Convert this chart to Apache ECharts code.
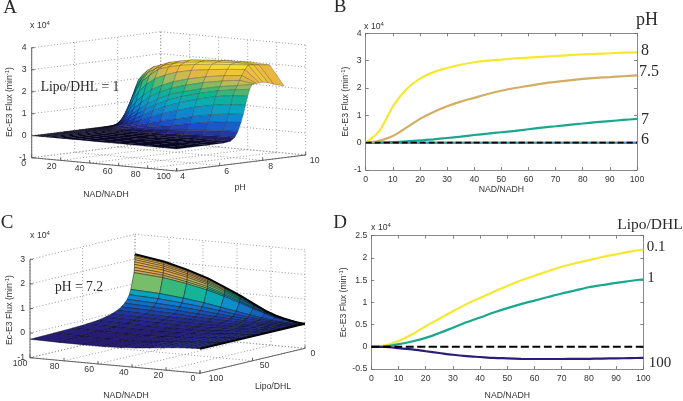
<!DOCTYPE html>
<html><head><meta charset="utf-8">
<style>html,body{margin:0;padding:0;background:#fff}#c{width:683px;height:401px}</style>
<script src="https://cdn.jsdelivr.net/npm/echarts@6/dist/echarts.min.js"></script>
</head><body><div id="c"></div>
<script>
// ---------- Panel A surface: flux (x 10^4) by pH (rows) and NAD/NADH (columns)
const nadA=[0,1.5,3,5,7,10,13,17,22,28,35,43,53,65,78,90,100];
const phA=[4,5.5,6.2,6.5,6.7,6.85,7,7.1,7.2,7.3,7.4,7.5,7.6,7.7,7.85,8,8.25,8.5,9];
const fluxA=[
[0,0,0,0,0,0,0,0,0,0,0,0,0,0,0,0,0],
[0,0,0,0,0,0,0,0,0,0,0,0,0,0,0,0,0],
[0,0,0,0,0,0,0,0,0,0,0,0,0,.005,.005,.01,.01],
[0,0,0,0,0,0,0,0,0,.005,.01,.01,.02,.03,.04,.05,.05],
[0,0,0,0,0,.005,.01,.01,.02,.03,.05,.07,.09,.12,.16,.19,.2],
[0,0,0,0,.005,.01,.02,.03,.05,.08,.12,.17,.23,.3,.37,.42,.45],
[0,0,0,.005,.01,.02,.04,.07,.11,.17,.24,.32,.43,.58,.72,.82,.87],
[0,0,.01,.01,.02,.04,.07,.12,.2,.3,.42,.55,.7,.88,1.05,1.15,1.2],
[0,0,.01,.02,.04,.07,.13,.22,.34,.5,.68,.88,1.08,1.3,1.47,1.57,1.6],
[0,.01,.02,.03,.06,.11,.2,.33,.5,.72,.95,1.18,1.42,1.65,1.85,1.97,2],
[0,.01,.02,.05,.09,.17,.3,.48,.7,.96,1.2,1.45,1.68,1.9,2.1,2.22,2.3],
[0,.01,.03,.07,.14,.25,.42,.65,.9,1.2,1.45,1.7,1.9,2.1,2.28,2.4,2.5],
[0,.02,.05,.1,.21,.38,.6,.9,1.2,1.5,1.75,1.98,2.18,2.37,2.52,2.62,2.52],
[0,.03,.08,.16,.32,.56,.85,1.2,1.52,1.83,2.05,2.27,2.45,2.62,2.75,2.83,2.53],
[0,.06,.17,.32,.55,.9,1.26,1.66,2,2.3,2.5,2.68,2.82,2.93,3.02,3.08,2.54],
[0,.1,.3,.55,.85,1.3,1.7,2.1,2.4,2.7,2.85,2.97,3.07,3.15,3.22,3.27,2.55],
[0,.25,.65,1.05,1.42,1.85,2.15,2.45,2.65,2.85,2.98,3.08,3.16,3.22,3.27,3.25,2.5],
[0,.5,1.2,1.7,2.05,2.3,2.5,2.68,2.8,2.95,3.05,3.15,3.2,3.25,3.27,3.22,2.4],
[0,.5,1.1,1.6,1.95,2.25,2.45,2.6,2.75,2.9,3,3.08,3.14,3.18,3.2,3.15,2.26]];
// ---------- Panel C surface: flux (x 10^4) by Lipo/DHL (rows) and NAD/NADH (columns)
const nadC=[0,2,5,8,12,17,23,30,38,47,57,69,83,100];
const lipoC=[.1,.13,.17,.22,.3,.4,.55,.75,1,4,5.5,7.5,10,13,17,22,28,36,46,60,78,100];
const fluxC=[
[0,.005,.03,.07,.13,.22,.38,.62,.9,1.18,1.48,1.75,2,2.19],
[0,.005,.03,.07,.13,.21,.37,.6,.87,1.15,1.44,1.7,1.94,2.12],
[0,.005,.03,.07,.12,.21,.36,.58,.85,1.11,1.39,1.65,1.88,2.05],
[0,.004,.03,.06,.12,.2,.35,.56,.82,1.07,1.34,1.59,1.81,1.97],
[0,.004,.03,.06,.11,.2,.34,.54,.78,1.03,1.29,1.52,1.73,1.88],
[0,.004,.02,.06,.11,.19,.33,.52,.75,.98,1.23,1.45,1.65,1.78],
[0,.004,.02,.06,.1,.18,.31,.48,.7,.92,1.15,1.35,1.54,1.66],
[0,.003,.02,.05,.1,.17,.29,.46,.66,.87,1.08,1.27,1.45,1.55],
[0,.003,.02,.05,.09,.16,.28,.43,.62,.82,1.02,1.2,1.36,1.45],
[0,.001,.01,.02,.04,.07,.13,.21,.3,.41,.53,.64,.74,.8],
[0,0,.005,.015,.025,.045,.085,.135,.205,.285,.375,.46,.545,.6],
[0,0,.002,.01,.01,.02,.05,.08,.12,.18,.25,.32,.38,.43],
[0,0,0,0,0,0,.015,.03,.06,.09,.14,.2,.25,.3],
[0,-.001,0,0,-.01,-.01,-.01,-.01,0,.02,.05,.1,.14,.18],
[0,-.002,-.004,-.007,-.015,-.03,-.04,-.05,-.05,-.05,-.02,0,.04,.08],
[0,-.002,-.006,-.01,-.02,-.04,-.055,-.08,-.09,-.1,-.09,-.07,-.04,-.01],
[0,-.002,-.007,-.01,-.03,-.05,-.07,-.1,-.13,-.14,-.14,-.13,-.11,-.08],
[0,-.003,-.008,-.015,-.03,-.055,-.085,-.12,-.16,-.18,-.19,-.18,-.16,-.14],
[0,-.003,-.009,-.017,-.035,-.06,-.095,-.135,-.18,-.21,-.22,-.22,-.2,-.18],
[0,-.003,-.009,-.018,-.037,-.065,-.1,-.145,-.19,-.225,-.24,-.24,-.23,-.21],
[0,-.003,-.01,-.019,-.038,-.067,-.105,-.15,-.2,-.24,-.255,-.26,-.25,-.23],
[0,-.003,-.01,-.02,-.04,-.07,-.11,-.16,-.21,-.25,-.27,-.275,-.27,-.25]];
// ---------- Panel axis ticks
const ticksNadA=[0,20,40,60,80,100], ticksPhA=[4,6,8,10], ticksZA=[-1,0,1,2,3,4];
const ticksNadC=[0,20,40,60,80,100], ticksLipoC=[0,50,100], ticksZC=[-1,0,1,2,3];
// ---------- Panels B and D curves
const nadCurve=[0,5,10,15,20,25,30,35,40,45,50,55,60,65,70,75,80,85,90,95,100];
const fluxB8=[0,.42,1.32,1.95,2.34,2.58,2.73,2.85,2.94,3,3.04,3.08,3.11,3.14,3.17,3.2,3.23,3.25,3.27,3.29,3.3];
const fluxB75=[0,.07,.24,.55,.87,1.12,1.33,1.5,1.64,1.78,1.9,2,2.08,2.16,2.22,2.28,2.33,2.37,2.4,2.43,2.46];
const fluxB7=[0,.005,.02,.05,.08,.12,.17,.22,.28,.33,.38,.43,.49,.55,.6,.65,.7,.75,.79,.83,.87];
const fluxB6=[0,0,0,0,0,0,0,0,0,0,0,0,0,0,0,0,0,0,0,0,0];
const fluxD01=[0,.03,.13,.28,.46,.63,.8,.96,1.1,1.24,1.37,1.49,1.6,1.7,1.8,1.88,1.95,2.02,2.08,2.14,2.19];
const fluxD1=[0,.01,.06,.12,.2,.31,.43,.55,.66,.77,.87,.96,1.04,1.12,1.2,1.27,1.34,1.39,1.44,1.48,1.52];
const fluxD100=[0,-.005,-.03,-.06,-.1,-.14,-.18,-.21,-.23,-.25,-.26,-.27,-.275,-.275,-.275,-.272,-.27,-.265,-.26,-.255,-.25];
const zeroD=[0,0,0,0,0,0,0,0,0,0,0,0,0,0,0,0,0,0,0,0,0];

const projA=(n,p,z)=>[31.7+1.45*n+21.5*(p-4),157.7+.133*n-2.67*(p-4)-22*(z+1)];
const projC=(n,L,z)=>[30+1.7*(100-n)+1.05*(100-L),357.7+.156*(100-n)-.25*(100-L)-24.6*(z+1)];
const rampA=[[0,'#0a0828'],[.05,'#14104a'],[.2,'#2a2a90'],[.5,'#1a50c8'],[.9,'#0f80d0'],[1.4,'#0aa8c0'],[1.9,'#12b48c'],[2.2,'#60b868'],[2.45,'#b8bc5c'],[2.75,'#eab53f'],[3.15,'#f8dc30']];
const rampC=[[-.27,'#261a70'],[0,'#243298'],[.2,'#1558b8'],[.5,'#0f88d0'],[.75,'#08b0b0'],[.95,'#20b880'],[1.15,'#a0c060'],[1.5,'#e0a850'],[2.2,'#f0c040']];
function hex(c){return [1,3,5].map(i=>parseInt(c.substr(i,2),16));}
function colour(r,z){
  if(z<=r[0][0])return r[0][1];
  for(let i=1;i<r.length;i++) if(z<=r[i][0]){
    const t=(z-r[i-1][0])/(r[i][0]-r[i-1][0]),a=hex(r[i-1][1]),b=hex(r[i][1]);
    return 'rgb('+a.map((v,k)=>Math.round(v+(b[k]-v)*t)).join(',')+')';
  }
  return r[r.length-1][1];
}
function quads(cols,rows,Z,proj,ramp,colOrder,rowOrder){
  const out=[];
  for(const c of colOrder) for(const r of rowOrder){
    const idx=[[r,c],[r,c+1],[r+1,c+1],[r+1,c]];
    const pts=idx.map(([a,b])=>proj(cols[b],rows[a],Z[a][b]));
    const m=idx.reduce((s,[a,b])=>s+Z[a][b],0)/4;
    out.push({pts,fill:colour(ramp,m)});
  }
  return out;
}
const range=n=>Array.from({length:n},(_,i)=>i);
const surfA=quads(nadA,phA,fluxA,projA,rampA,range(nadA.length-1),range(phA.length-1).reverse());
const surfC=quads(nadC,lipoC,fluxC,projC,rampC,range(nadC.length-1).reverse(),range(lipoC.length-1));

function box(proj,aT,bT,zT,aFar,aNear,bFar,bNear){
  const z0=zT[0],z1=zT[zT.length-1],dot=[],solid=[];
  const L=(A,B)=>[proj(...A),proj(...B)];
  aT.forEach(a=>{dot.push(L([a,bNear,z0],[a,bFar,z0]),L([a,bFar,z0],[a,bFar,z1]));});
  bT.forEach(b=>{dot.push(L([aNear,b,z0],[aFar,b,z0]),L([aFar,b,z0],[aFar,b,z1]));});
  zT.forEach(z=>{dot.push(L([aFar,bNear,z],[aFar,bFar,z]),L([aFar,bFar,z],[aNear,bFar,z]));});
  solid.push(L([aFar,bNear,z0],[aFar,bNear,z1]),L([aFar,bNear,z0],[aNear,bNear,z0]),L([aNear,bNear,z0],[aNear,bFar,z0]));
  zT.forEach(z=>{const p=proj(aFar,bNear,z);solid.push([p,[p[0]+3,p[1]]]);});
  aT.forEach(a=>{const p=proj(a,bNear,z0);solid.push([p,[p[0],p[1]-3]]);});
  bT.forEach(b=>{const p=proj(aNear,b,z0);solid.push([p,[p[0],p[1]-3]]);});
  return {dot,solid};
}
const boxA=box(projA,ticksNadA,ticksPhA,ticksZA,0,100,10,4);
const boxC=box(projC,ticksNadC,ticksLipoC,ticksZC,100,0,0,100);
const edgesC=[lipoC.map((L,r)=>projC(nadC[0],L,fluxC[r][0])),nadC.map((n,c)=>projC(n,lipoC[0],fluxC[0][c]))];

const tickFont={fontFamily:'Liberation Sans',fontSize:8.7,fill:'#333'};
const labelsA=[
 ...ticksZA.map(z=>{const p=projA(0,4,z);return {x:p[0]-5,y:p[1],t:String(z),a:'right'};}),
 ...ticksNadA.map(n=>{const p=projA(n,4,-1);return {x:p[0]-8-.05*n,y:p[1]+6,t:String(n),a:'center'};}),
 ...ticksPhA.map(v=>{const p=projA(100,v,-1);return {x:p[0]+6+.5*(v-4),y:p[1]+6,t:String(v),a:'center'};})];
const labelsC=[
 ...ticksZC.map(z=>{const p=projC(100,100,z);return {x:p[0]-5,y:p[1],t:String(z),a:'right'};}),
 ...ticksNadC.map(n=>{const p=projC(n,100,-1);return {x:p[0]-7-.03*n,y:p[1]+5.5,t:String(n),a:'center'};}),
 ...ticksLipoC.map(v=>{const p=projC(0,v,-1);return {x:p[0]+8+.08*v,y:p[1]+5,t:String(v),a:'center'};})];

function customSeries(name,items,z,render){
  return {type:'custom',name,coordinateSystem:'cartesian2d',xAxisIndex:0,yAxisIndex:0,z,silent:true,clip:false,animation:false,
    progressive:0,encode:{x:0,y:1},data:items.map((_,i)=>[i,0]),
    renderItem:(params,api)=>render(items[params.dataIndex],api)};
}
const mapPts=(pts,api)=>pts.map(p=>api.coord(p));
const polyRenderA=(it,api)=>({type:'polygon',shape:{points:mapPts(it.pts,api)},style:{fill:it.fill,stroke:'rgba(10,10,25,.55)',lineWidth:.4}});
const polyRenderC=(it,api)=>({type:'polygon',shape:{points:mapPts(it.pts,api)},style:{fill:it.fill,stroke:'rgba(8,8,20,.8)',lineWidth:.55}});
const dotRender=(l,api)=>({type:'polyline',shape:{points:mapPts(l,api)},style:{fill:null,stroke:'#9a9a9a',lineWidth:1,lineDash:[1,2.2]}});
const solidRender=(l,api)=>({type:'polyline',shape:{points:mapPts(l,api)},style:{fill:null,stroke:'#555',lineWidth:.9}});
const edgeRender=(l,api)=>({type:'polyline',shape:{points:mapPts(l,api)},style:{fill:null,stroke:'#050505',lineWidth:2}});
const textRender=(it,api)=>{const p=api.coord([it.x,it.y]);return {type:'text',x:p[0],y:p[1],style:Object.assign({text:it.t,align:it.a,verticalAlign:'middle'},tickFont)};};

const sup={s:{fontSize:6,padding:[0,0,5,0],fontFamily:'Liberation Sans',fill:'#333',color:'#333'},n:{fontSize:8.7,fontFamily:'Liberation Sans',fill:'#333',color:'#333'}};
function txt(x,y,t,size,extra){
  return Object.assign({type:'text',x,y,z:50,silent:true,style:{text:t,fontFamily:'Liberation Serif',fontSize:size,fill:'#2a2a2a',align:'center',verticalAlign:'middle'}},extra||{});
}
function sans(x,y,t,rot){
  const o={type:'text',x,y,z:50,silent:true,style:{text:t,rich:sup,fontFamily:'Liberation Sans',fontSize:8.7,fill:'#333',align:'center',verticalAlign:'middle'}};
  if(rot)o.rotation=rot;
  return o;
}
const graphics=[
 txt(10,8,'A',19),txt(340,7,'B',19),txt(7,223,'C',19),txt(340,223,'D',19),
 txt(80,87,'Lipo/DHL = 1',13.6),txt(79,287,'pH = 7.2',13.6),
 txt(647,20,'pH',18),txt(645,51,'8',16),txt(649,72,'7.5',16),txt(645,120,'7',16),txt(645,140,'6',16),
 txt(650,225,'Lipo/DHL',15.5),txt(656,247,'0.1',15),txt(651,278,'1',15),txt(660,363,'100',15),
 sans(40,26,'{n|x 10}{s|4}'),sans(374,27,'{n|x 10}{s|4}'),sans(40,236,'{n|x 10}{s|4}'),sans(381,228,'{n|x 10}{s|4}'),
 sans(10,102,'{n|Ec-E3 Flux (min}{s|-1}{n|)}',Math.PI/2),sans(9.5,310,'{n|Ec-E3 Flux (min}{s|-1}{n|)}',Math.PI/2),
 sans(106,195,'{n|NAD/NADH}'),sans(240,188,'{n|pH}'),sans(126,396,'{n|NAD/NADH}'),sans(273,387,'{n|Lipo/DHL}')
];

const axisFont={fontFamily:'Liberation Sans',fontSize:8.7,color:'#333'};
const lineAx={show:true,onZero:false,lineStyle:{color:'#8a8a8a',width:1}};
const tickAx={show:true,inside:true,length:3,lineStyle:{color:'#666',width:.8}};
function xAx(grid,name,gap){return {type:'value',gridIndex:grid,min:0,max:100,interval:10,name,nameLocation:'middle',nameGap:gap,
  nameTextStyle:axisFont,axisLine:lineAx,axisTick:tickAx,splitLine:{show:false},axisLabel:Object.assign({margin:5},axisFont)};}
function xTop(grid){return {type:'value',gridIndex:grid,position:'top',min:0,max:100,interval:10,axisLine:lineAx,axisTick:tickAx,splitLine:{show:false},axisLabel:{show:false}};}
function yAx(grid,min,max,iv,gap){return {type:'value',gridIndex:grid,min,max,interval:iv,name:'{n|Ec-E3 Flux (min}{s|-1}{n|)}',nameLocation:'middle',nameRotate:90,nameGap:gap,
  nameTextStyle:Object.assign({rich:sup},axisFont),axisLine:lineAx,axisTick:tickAx,splitLine:{show:false},axisLabel:Object.assign({margin:4},axisFont)};}
function yRight(grid,min,max,iv){return {type:'value',gridIndex:grid,position:'right',min,max,interval:iv,axisLine:lineAx,axisTick:tickAx,splitLine:{show:false},axisLabel:{show:false}};}
function ln(name,xs,ys,xi,color,width,dash,z){
  return {type:'line',name,xAxisIndex:xi,yAxisIndex:xi,data:xs.map((x,i)=>[x,ys[i]]),symbol:'none',smooth:.3,z:z||5,silent:true,animation:false,
    lineStyle:{color,width:width||2,type:dash||'solid'}};
}

const chart=echarts.init(document.getElementById('c'),null,{renderer:'canvas'});
chart.setOption({
  backgroundColor:'#fff',animation:false,
  grid:[{left:0,top:0,width:683,height:401,show:false},
        {left:365.7,top:33.3,width:271.3,height:136.7},
        {left:371.3,top:235.7,width:272,height:136.3}],
  xAxis:[{type:'value',gridIndex:0,min:0,max:683,show:false},
         xAx(1,'NAD/NADH',14),xAx(2,'NAD/NADH',22),xTop(1),xTop(2)],
  yAxis:[{type:'value',gridIndex:0,min:0,max:401,inverse:true,show:false},
         yAx(1,-1,4,1,14),yAx(2,-.5,2.5,.5,20),yRight(1,-1,4,1),yRight(2,-.5,2.5,.5)],
  graphic:{elements:graphics},
  series:[
    customSeries('A grid',boxA.dot,1,dotRender),
    customSeries('A surface',surfA,2,polyRenderA),
    customSeries('A axes',boxA.solid,3,solidRender),
    customSeries('A ticks',labelsA,3,textRender),
    customSeries('C grid',boxC.dot,1,dotRender),
    customSeries('C surface',surfC,2,polyRenderC),
    customSeries('C edges',edgesC,3,edgeRender),
    customSeries('C axes',boxC.solid,3,solidRender),
    customSeries('C ticks',labelsC,3,textRender),
    ln('pH 6',nadCurve,fluxB6,1,'#35a8dc',2.5),
    ln('pH 7',nadCurve,fluxB7,1,'#1aa78d',2.2),
    ln('pH 7.5',nadCurve,fluxB75,1,'#d3ad62',2.2),
    ln('pH 8',nadCurve,fluxB8,1,'#f5e82f',2.2),
    ln('zero B',nadCurve,fluxB6,1,'#000',1.8,[6,3],6),
    ln('Lipo/DHL 0.1',nadCurve,fluxD01,2,'#f5e82f',2.2),
    ln('Lipo/DHL 1',nadCurve,fluxD1,2,'#1aa78d',2.2),
    ln('Lipo/DHL 100',nadCurve,fluxD100,2,'#2a1e78',2.2),
    ln('zero D',nadCurve,zeroD,2,'#000',2,[8,3.5],6)
  ]
});
</script></body></html>
